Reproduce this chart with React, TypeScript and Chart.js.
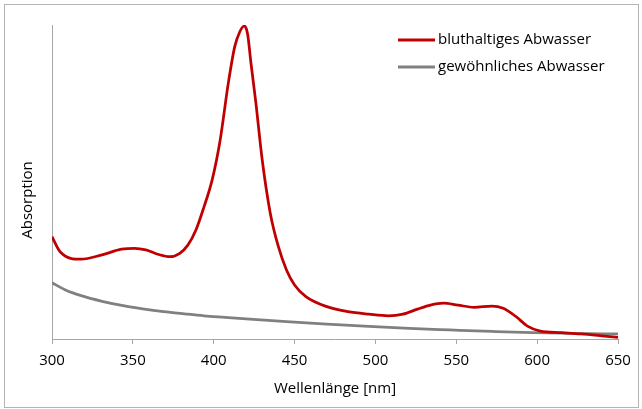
import React, { useEffect, useRef } from "react";
import { Chart, registerables } from "chart.js";

Chart.register(...registerables);

// Wavelengths (nm) and absorption values
const bloodNm = [300, 305, 318, 331, 343, 351, 358, 366, 373, 379, 384, 389, 394, 399, 404, 409, 413, 416, 419, 421, 423, 426, 430, 435, 440, 445, 450, 457, 470, 483, 496, 508, 517, 526, 534, 542, 551, 561, 572, 579, 587, 594, 602, 615, 627, 640, 650];
const bloodAbs = [0.326, 0.278, 0.254, 0.268, 0.286, 0.289, 0.284, 0.269, 0.262, 0.273, 0.299, 0.347, 0.421, 0.506, 0.634, 0.814, 0.931, 0.977, 0.997, 0.97, 0.88, 0.755, 0.57, 0.4, 0.294, 0.22, 0.172, 0.135, 0.103, 0.087, 0.079, 0.074, 0.079, 0.095, 0.108, 0.114, 0.108, 0.101, 0.105, 0.098, 0.071, 0.041, 0.025, 0.02, 0.016, 0.01, 0.005];

const normalNm = [300, 308, 318, 331, 344, 356, 369, 382, 394, 407, 420, 445, 470, 496, 521, 546, 572, 597, 622, 650];
const normalAbs = [0.179, 0.157, 0.138, 0.12, 0.106, 0.096, 0.087, 0.08, 0.074, 0.069, 0.064, 0.055, 0.047, 0.04, 0.034, 0.029, 0.024, 0.02, 0.018, 0.016];

const xTickValues = [300, 350, 400, 450, 500, 550, 600, 650];
const seriesLabels = ["bluthaltiges Abwasser", "gewöhnliches Abwasser"];
const seriesColors = ["#c00000", "#808080"];
const xTitle = "Wellenlänge [nm]";
const yTitle = "Absorption";

const FONT = "'Open Sans', 'DejaVu Sans', sans-serif";
const AXIS_COLOR = "#a6a6a6";

const decorPlugin = {
  id: "decor",
  beforeDraw(chart: any) {
    const ctx = chart.ctx;
    ctx.save();
    ctx.strokeStyle = "#b4b4b4";
    ctx.lineWidth = 1;
    ctx.strokeRect(4.5, 4.5, 634, 403);
    ctx.restore();
  },
  afterDraw(chart: any) {
    const ctx = chart.ctx;
    const area = chart.chartArea;
    ctx.save();
    // legend
    ctx.font = `15px ${FONT}`;
    ctx.textBaseline = "middle";
    ctx.textAlign = "left";
    const lx = area.right - 220;
    const rows = [area.top + 15, area.top + 42];
    chart.data.datasets.forEach((ds: any, i: number) => {
      const y = rows[i];
      ctx.strokeStyle = ds.borderColor;
      ctx.lineWidth = 3;
      ctx.beginPath();
      ctx.moveTo(lx, y);
      ctx.lineTo(lx + 37, y);
      ctx.stroke();
      ctx.fillStyle = "#000000";
      ctx.fillText(ds.label, lx + 40, y);
    });
    // y title
    ctx.translate(28, (area.top + area.bottom) / 2 + 18);
    ctx.rotate(-Math.PI / 2);
    ctx.textAlign = "center";
    ctx.textBaseline = "middle";
    ctx.fillStyle = "#000000";
    ctx.fillText(yTitle, 0, 0);
    ctx.restore();
  },
};

export default function App() {
  const ref = useRef<HTMLCanvasElement | null>(null);

  useEffect(() => {
    if (!ref.current) return;
    const chart = new Chart(ref.current, {
      type: "line",
      data: {
        datasets: [
          {
            label: seriesLabels[0],
            data: bloodNm.map((x, i) => ({ x, y: bloodAbs[i] })),
            borderColor: seriesColors[0],
            backgroundColor: seriesColors[0],
            borderWidth: 2.75,
            pointRadius: 0,
            cubicInterpolationMode: "monotone",
            fill: false,
          },
          {
            label: seriesLabels[1],
            data: normalNm.map((x, i) => ({ x, y: normalAbs[i] })),
            borderColor: seriesColors[1],
            backgroundColor: seriesColors[1],
            borderWidth: 2.75,
            pointRadius: 0,
            cubicInterpolationMode: "monotone",
            fill: false,
          },
        ],
      },
      options: {
        animation: false,
        responsive: false,
        devicePixelRatio: 1,
        layout: { padding: { left: 52, right: 24, top: 25, bottom: 11 } },
        plugins: {
          legend: { display: false },
          tooltip: { enabled: false },
        },
        scales: {
          x: {
            type: "linear",
            min: 300,
            max: 650,
            afterBuildTicks: (scale: any) => {
              scale.ticks = xTickValues.map((v) => ({ value: v }));
            },
            ticks: {
              color: "#000000",
              font: { family: FONT, size: 15 },
              padding: 8,
              maxRotation: 0,
            },
            grid: {
              display: true,
              drawOnChartArea: false,
              drawTicks: true,
              tickLength: 5,
              color: AXIS_COLOR,
            },
            border: { display: true, color: AXIS_COLOR, width: 1 },
            title: {
              display: true,
              text: xTitle,
              color: "#000000",
              font: { family: FONT, size: 15 },
              padding: { top: 2, bottom: 0 },
            },
          },
          y: {
            type: "linear",
            min: 0,
            max: 1,
            ticks: { display: false },
            grid: { display: false, drawTicks: false },
            border: { display: true, color: AXIS_COLOR, width: 1 },
          },
        },
      },
      plugins: [decorPlugin],
    });
    return () => chart.destroy();
  }, []);

  return (
    <div style={{ position: "fixed", left: 0, top: 0, width: 642, height: 409, background: "#ffffff" }}>
      <canvas ref={ref} width={642} height={409} style={{ display: "block", width: 642, height: 409 }} />
    </div>
  );
}
